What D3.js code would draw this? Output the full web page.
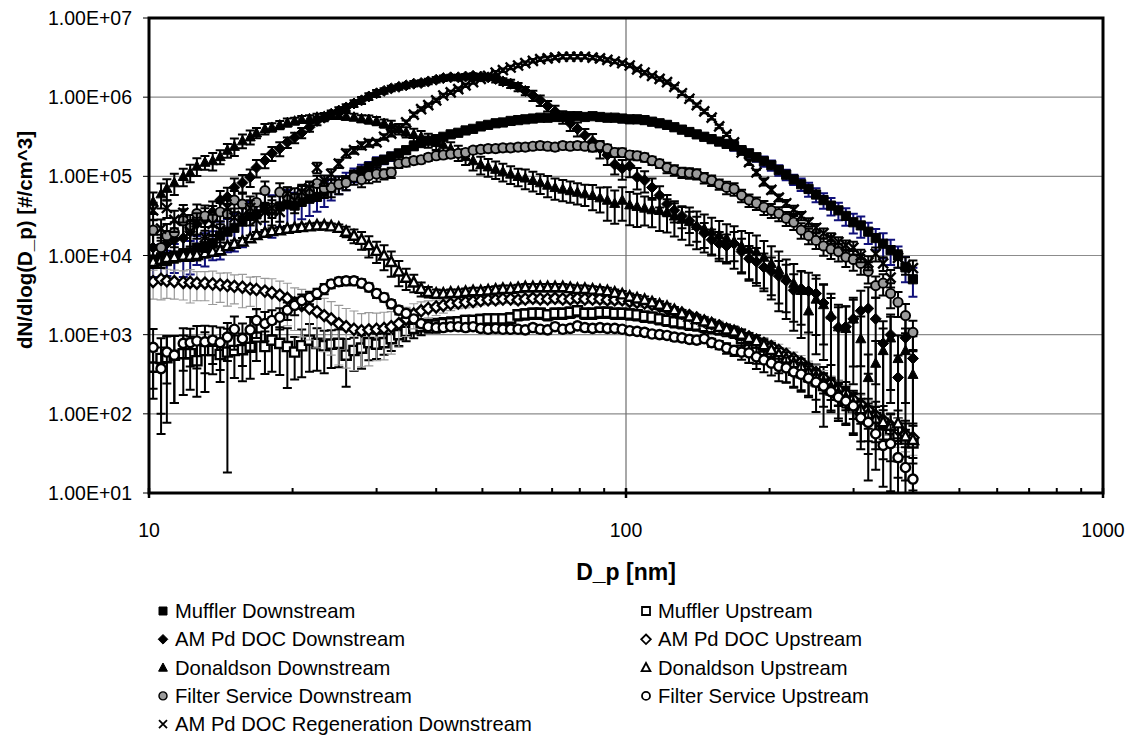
<!doctype html>
<html>
<head>
<meta charset="utf-8">
<title>Particle size distributions</title>
<script src="https://cdn.jsdelivr.net/npm/d3@7"></script>
<style>
  body { margin: 0; background: #fff; }
  text { font-family: Arial, "Liberation Sans", sans-serif; fill: #000; }
</style>
</head>
<body>
<svg id="chart" width="1129" height="736"></svg>
<script>
// SMPS channel mid-points (nm)
const diameters = [10.2,10.6,10.9,11.3,11.8,12.2,12.6,13.1,13.6,14.1,
  14.6,15.1,15.7,16.3,16.8,17.5,18.1,18.8,19.5,20.2,
  20.9,21.7,22.5,23.3,24.1,25.0,25.9,26.9,27.9,28.9,
  30.0,31.1,32.2,33.4,34.6,35.9,37.2,38.5,40.0,41.4,
  42.9,44.5,46.1,47.8,49.6,51.4,53.3,55.2,57.3,59.4,
  61.5,63.8,66.1,68.5,71.0,73.7,76.4,79.1,82.0,85.1,
  88.2,91.4,94.7,98.2,101.8,105.5,109.4,113.4,117.6,121.9,
  126.3,131.0,135.8,140.7,145.9,151.2,156.8,162.5,168.5,174.7,
  181.1,187.7,194.6,201.7,209.1,216.7,224.7,232.9,241.4,250.3,
  259.5,269.0,278.8,289.0,299.6,310.6,322.0,333.8,346.0,358.7,
  371.8,385.4,399.5];

// dN/dlog(Dp) values (#/cm^3) and error bars (% of value)
const mufflerDown = [8.9e3,9.5e3,8.5e3,1.0e4,1.07e4,1.05e4,1.26e4,1.32e4,1.45e4,1.78e4,
  2.0e4,2.24e4,2.82e4,3.16e4,3.31e4,3.98e4,3.72e4,4.17e4,4.47e4,4.27e4,
  4.79e4,5.25e4,5.5e4,6.31e4,7.08e4,7.94e4,8.91e4,1.05e5,1.17e5,1.32e5,
  1.51e5,1.62e5,1.78e5,1.95e5,2.14e5,2.4e5,2.63e5,2.82e5,2.95e5,3.16e5,
  3.39e5,3.55e5,3.8e5,3.98e5,4.27e5,4.47e5,4.68e5,4.79e5,5.01e5,5.13e5,
  5.25e5,5.37e5,5.5e5,5.5e5,5.62e5,5.62e5,5.75e5,5.75e5,5.62e5,5.75e5,
  5.62e5,5.5e5,5.5e5,5.37e5,5.25e5,5.25e5,5.13e5,4.9e5,4.68e5,4.47e5,
  4.17e5,3.89e5,3.63e5,3.39e5,3.16e5,2.95e5,2.75e5,2.57e5,2.4e5,2.14e5,
  1.95e5,1.74e5,1.55e5,1.38e5,1.2e5,1.05e5,9.12e4,7.94e4,6.92e4,5.89e4,
  5.01e4,4.27e4,3.72e4,3.16e4,2.63e4,2.4e4,2.0e4,1.66e4,1.41e4,1.17e4,
  1.0e4,7.08e3,5.01e3];
const mufflerDownErr = [40,45,35,40,50,45,40,45,40,50,
  45,50,55,50,45,50,55,45,50,45,
  40,40,35,35,30,25,25,20,20,15,
  15,12,12,10,10,10,10,8,8,8,
  8,8,8,8,8,8,8,8,8,8,
  8,8,8,8,8,8,8,8,8,8,
  8,8,8,10,10,10,10,10,10,10,
  10,10,10,10,10,10,10,10,12,12,
  12,12,15,15,15,15,15,18,20,20,
  22,25,25,25,28,30,30,30,35,35,
  30,35,40];

const mufflerUp = [389,501,513,550,575,575,468,631,631,562,
  603,631,646,692,933,708,851,776,708,603,
  724,851,776,724,759,776,550,631,676,794,
  759,794,891,1000,1100,1200,1260,1320,1320,1380,
  1410,1450,1510,1510,1550,1580,1580,1580,1620,1780,
  1820,1860,1860,1780,1860,1860,1910,2000,1860,1860,
  1910,1910,1860,1860,1820,1780,1700,1660,1580,1510,
  1450,1410,1350,1320,1260,1230,1170,1120,1070,891,
  676,661,631,603,501,417,355,331,295,263,
  229,200,174,151,120,112,100,89,76,63,
  52,48,43];
const mufflerUpErr = [60,80,85,75,70,65,65,70,50,55,
  97,55,60,60,50,55,60,60,70,55,
  60,60,55,55,50,50,60,45,45,40,
  35,30,30,28,25,25,22,20,20,18,
  18,15,15,15,15,15,15,15,15,15,
  15,15,15,15,15,15,15,15,15,15,
  15,15,15,15,15,15,15,15,15,15,
  15,15,15,15,15,15,15,15,15,30,
  35,35,30,30,35,40,40,40,45,60,
  70,45,50,50,55,60,55,60,65,60,
  70,70,75];

const amDocDown = [1.26e4,1.2e4,1.41e4,1.58e4,1.66e4,2.0e4,2.51e4,2.82e4,3.55e4,5.01e4,
  5.5e4,7.24e4,8.32e4,9.77e4,1.29e5,1.58e5,1.95e5,2.24e5,2.69e5,3.09e5,
  3.55e5,4.17e5,5.01e5,5.5e5,6.17e5,6.76e5,7.41e5,8.32e5,9.12e5,1.02e6,
  1.12e6,1.2e6,1.29e6,1.35e6,1.41e6,1.48e6,1.51e6,1.58e6,1.66e6,1.74e6,
  1.78e6,1.78e6,1.82e6,1.86e6,1.82e6,1.78e6,1.7e6,1.58e6,1.48e6,1.35e6,
  1.2e6,1.05e6,9.12e5,7.76e5,6.61e5,5.62e5,4.68e5,3.98e5,3.31e5,2.75e5,
  2.24e5,1.86e5,1.41e5,1.26e5,1.35e5,9.77e4,8.91e4,7.24e4,5.75e4,4.47e4,
  3.72e4,3.16e4,2.75e4,2.29e4,1.91e4,1.58e4,1.41e4,1.32e4,1.41e4,1.12e4,
  9.12e3,8.32e3,7.08e3,6.31e3,5.5e3,4.79e3,3.63e3,3.8e3,3.55e3,3.31e3,
  2.51e3,1.66e3,1.23e3,1.26e3,1.58e3,2.0e3,2.14e3,1.58e3,776,1000,
  288,912,501];
const amDocDownErr = [45,40,45,40,45,40,35,40,35,30,
  30,30,25,25,25,20,20,20,15,15,
  15,12,12,10,10,10,10,10,10,10,
  10,8,8,8,8,8,8,8,8,8,
  8,8,8,8,8,8,10,10,12,12,
  12,15,15,15,18,18,20,20,20,25,
  25,25,25,28,28,30,30,30,30,30,
  30,30,30,35,35,35,40,40,40,45,
  45,50,50,50,55,60,60,65,70,70,
  70,75,80,80,75,80,85,85,90,80,
  90,85,90];

const amDocUp = [4680,5010,4790,4680,4570,4570,4470,4470,4370,4270,
  4170,4070,3980,3800,3720,3550,3390,3160,2880,2510,
  2340,2140,1950,1740,1580,1380,1260,1170,1120,1150,
  1170,1200,1260,1380,1580,1820,2000,2140,2240,2340,
  2450,2510,2570,2630,2690,2750,2750,2820,2820,2750,
  2820,2880,2820,2820,2880,2820,2820,2880,2820,2820,
  2820,2750,2750,2750,2630,2570,2510,2400,2290,2140,
  2000,1860,1740,1620,1480,1380,1290,1170,1100,1000,
  933,851,776,708,631,562,501,447,380,331,
  282,240,204,178,151,132,112,95,83,71,
  63,55,50];
const amDocUpErr = [40,45,40,40,40,45,40,40,45,40,
  45,40,45,40,45,45,50,50,55,55,
  60,60,65,65,65,70,70,70,65,65,
  60,60,55,50,40,35,30,25,22,20,
  18,15,15,15,12,12,12,12,12,12,
  12,12,12,12,12,12,12,12,12,12,
  12,12,12,12,12,12,12,12,12,12,
  12,12,12,12,15,15,15,15,15,15,
  15,18,18,18,20,20,20,22,22,25,
  25,25,28,28,30,30,30,35,35,35,
  40,40,40];

const donaldsonDown = [4.79e4,6.03e4,7.08e4,8.32e4,1.0e5,1.12e5,1.35e5,1.51e5,1.58e5,1.78e5,
  2.14e5,2.4e5,2.82e5,3.16e5,3.55e5,3.98e5,4.17e5,4.47e5,4.79e5,5.01e5,
  5.25e5,5.37e5,5.62e5,5.75e5,5.89e5,5.89e5,5.75e5,5.62e5,5.37e5,5.25e5,
  5.01e5,4.68e5,4.37e5,3.98e5,3.63e5,3.39e5,3.16e5,2.88e5,2.69e5,2.51e5,
  2.24e5,2.0e5,1.78e5,1.58e5,1.41e5,1.32e5,1.23e5,1.15e5,1.07e5,1.0e5,
  9.55e4,8.91e4,8.32e4,7.76e4,7.24e4,6.92e4,6.61e4,6.31e4,6.03e4,5.75e4,
  5.37e4,5.01e4,4.57e4,5.01e4,4.37e4,4.17e4,3.98e4,3.8e4,3.72e4,3.55e4,
  3.16e4,2.88e4,2.69e4,2.4e4,2.19e4,2.0e4,1.82e4,1.66e4,1.51e4,1.32e4,
  1.2e4,1.12e4,9550,7940,6610,5250,4470,3630,2000,2820,
  2400,1780,1260,1200,1580,891,288,437,631,912,
  501,631,316];
const donaldsonDownErr = [30,35,30,30,25,25,25,20,25,20,
  20,25,20,20,15,15,12,12,12,10,
  10,10,10,10,10,10,10,10,10,12,
  12,12,15,15,15,18,18,20,20,20,
  20,22,22,25,25,25,25,25,25,25,
  28,28,28,30,30,30,30,30,30,35,
  35,45,45,45,45,45,40,40,45,45,
  45,45,50,50,50,50,50,50,55,55,
  60,60,60,65,70,70,75,75,85,80,
  80,85,90,90,85,90,95,90,90,85,
  95,90,95];

const donaldsonUp = [8320,8910,9330,9550,10000,10000,10200,10700,11200,11700,
  13200,14100,15100,16600,18200,19500,20400,20900,21900,22400,
  22900,23400,24000,24000,23400,22400,20000,17800,15800,13500,
  11500,10000,8320,6310,5250,4570,3800,3470,3310,3310,
  3390,3390,3470,3550,3550,3630,3720,3800,3800,3890,
  3980,3980,3980,3980,3980,3980,3890,3800,3800,3720,
  3630,3550,3390,3240,3020,2880,2750,2570,2400,2240,
  2040,1860,1700,1580,1480,1380,1260,1170,1100,1000,
  912,832,741,646,562,501,437,398,339,295,
  251,214,182,158,132,115,100,87,79,71,
  76,52,47];
const donaldsonUpErr = [15,15,15,15,15,15,15,12,12,12,
  10,10,10,8,8,8,8,8,8,8,
  8,8,8,8,8,10,15,20,25,30,
  30,35,35,35,30,25,20,15,12,10,
  10,10,10,10,10,10,10,10,10,10,
  10,10,10,10,10,10,10,10,10,10,
  10,10,10,10,10,10,10,10,10,10,
  10,10,10,12,12,12,12,15,15,15,
  15,18,18,20,20,20,22,25,25,25,
  28,30,30,30,35,35,35,40,40,40,
  45,45,50];

const filterServiceDown = [2.09e4,1.26e4,1.78e4,1.95e4,2.75e4,2.24e4,3.39e4,3.16e4,3.02e4,3.55e4,
  3.31e4,5.01e4,4.47e4,3.98e4,4.68e4,6.61e4,3.98e4,6.31e4,5.62e4,5.25e4,
  6.03e4,6.61e4,8.13e4,7.08e4,7.24e4,7.94e4,8.32e4,9.77e4,9.12e4,1.02e5,
  1.07e5,1.07e5,1.12e5,1.45e5,1.51e5,1.58e5,1.62e5,1.74e5,1.82e5,1.86e5,
  1.91e5,1.95e5,2.0e5,2.14e5,2.19e5,2.24e5,2.24e5,2.29e5,2.29e5,2.34e5,
  2.34e5,2.4e5,2.45e5,2.4e5,2.34e5,2.45e5,2.4e5,2.45e5,2.4e5,2.34e5,
  2.45e5,2.24e5,2.0e5,2.0e5,1.86e5,1.82e5,1.74e5,1.58e5,1.45e5,1.29e5,
  1.2e5,1.12e5,1.1e5,1.07e5,9.55e4,8.91e4,7.94e4,7.24e4,6.92e4,5.75e4,
  5.01e4,4.57e4,4.07e4,3.72e4,3.39e4,2.95e4,2.63e4,2.09e4,1.78e4,1.55e4,
  1.32e4,1.2e4,1.12e4,9550,8910,7940,6310,4170,4470,3310,
  2570,1740,1070];
const filterServiceDownErr = [35,45,40,35,40,45,30,35,40,30,
  35,30,35,40,30,30,40,30,30,35,
  30,30,25,25,25,25,20,20,20,20,
  20,15,15,12,12,10,10,10,10,10,
  10,10,10,10,10,10,10,10,10,10,
  10,10,10,10,10,10,10,10,10,10,
  10,12,12,12,12,12,12,12,12,15,
  15,15,15,15,15,15,15,18,18,18,
  18,18,20,20,20,20,20,22,22,22,
  25,25,25,25,28,28,30,30,30,35,
  35,40,40];

const filterServiceUp = [692,372,603,550,776,794,832,813,851,794,
  933,1170,891,1150,1510,1380,1510,1660,2040,2340,
  2690,2950,3310,3800,4370,4680,4790,4790,4470,3980,
  3310,2950,2450,2040,1860,1580,1380,1260,1230,1230,
  1260,1260,1230,1260,1200,1170,1200,1170,1170,1170,
  1150,1230,1170,1150,1260,1170,1200,1290,1230,1200,
  1230,1200,1200,1170,1120,1100,1070,1020,1000,977,
  933,912,871,851,891,794,741,676,631,603,
  589,525,479,437,398,380,339,316,282,251,
  224,191,162,145,126,89,78,56,40,42,
  28,21,15];
const filterServiceUpErr = [70,85,60,75,55,50,55,60,50,55,
  50,45,55,45,40,40,35,30,25,25,
  20,18,15,15,12,12,12,12,12,12,
  12,12,12,12,12,10,10,10,10,10,
  10,10,10,10,10,10,10,10,10,10,
  10,10,10,10,10,10,10,10,10,10,
  10,10,10,10,10,10,10,10,10,10,
  10,10,10,10,10,12,12,15,15,20,
  25,30,30,30,35,35,35,40,40,40,
  45,45,50,50,55,60,60,65,70,75,
  75,80,85];

const regenDown = [3.72e4,2.19e4,3.98e4,2.82e4,3.47e4,2.0e4,2.63e4,1.7e4,2.51e4,2.09e4,
  3.98e4,3.02e4,3.16e4,3.98e4,2.82e4,3.55e4,3.98e4,3.55e4,6.03e4,5.01e4,
  6.31e4,7.08e4,1.29e5,8.91e4,1.07e5,1.45e5,1.95e5,2.14e5,2.45e5,2.63e5,
  2.69e5,3.16e5,3.47e5,3.98e5,4.79e5,6.03e5,7.08e5,7.94e5,9.12e5,1.05e6,
  1.15e6,1.26e6,1.41e6,1.55e6,1.7e6,1.86e6,2.04e6,2.19e6,2.37e6,2.51e6,
  2.69e6,2.88e6,3.02e6,3.09e6,3.16e6,3.24e6,3.24e6,3.24e6,3.24e6,3.16e6,
  3.09e6,2.95e6,2.82e6,2.69e6,2.51e6,2.24e6,2.04e6,1.86e6,1.7e6,1.55e6,
  1.35e6,1.12e6,9.55e5,7.94e5,6.61e5,5.5e5,4.27e5,3.39e5,2.69e5,2.0e5,
  1.51e5,1.12e5,8.51e4,6.76e4,5.37e4,4.57e4,3.8e4,3.16e4,2.63e4,2.24e4,
  1.91e4,1.66e4,1.48e4,1.35e4,1.26e4,1.0e4,8130,1.05e4,7940,5250,
  9330,7590,6920];
const regenDownErr = [25,30,25,30,25,35,30,35,30,30,
  25,30,25,25,30,25,25,25,20,20,
  20,20,15,15,15,12,12,10,10,10,
  8,8,8,6,6,6,5,5,5,5,
  5,5,5,5,5,5,5,5,5,5,
  5,5,5,5,5,5,5,5,5,5,
  5,5,5,5,5,5,5,5,5,5,
  5,5,5,5,5,5,5,5,6,6,
  8,8,10,10,10,10,12,12,12,12,
  15,15,15,15,18,18,20,20,20,25,
  25,25,25];

const yTicks = [1e1, 1e2, 1e3, 1e4, 1e5, 1e6, 1e7];
const yTickLabels = ["1.00E+01","1.00E+02","1.00E+03","1.00E+04","1.00E+05","1.00E+06","1.00E+07"];
const xTicks = [10, 100, 1000];
const xTickLabels = ["10", "100", "1000"];

const series = [
  {name: "Muffler Downstream", values: mufflerDown, err: mufflerDownErr, shape: "square", filled: true, errColor: "#10107a", col: 0, row: 0},
  {name: "Muffler Upstream", values: mufflerUp, err: mufflerUpErr, shape: "square", filled: false, errColor: "#000", col: 1, row: 0},
  {name: "AM Pd DOC Downstream", values: amDocDown, err: amDocDownErr, shape: "diamond", filled: true, errColor: "#000", col: 0, row: 1},
  {name: "AM Pd DOC Upstream", values: amDocUp, err: amDocUpErr, shape: "diamond", filled: false, errColor: "#9a9a9a", col: 1, row: 1},
  {name: "Donaldson Downstream", values: donaldsonDown, err: donaldsonDownErr, shape: "triangle", filled: true, errColor: "#000", col: 0, row: 2},
  {name: "Donaldson Upstream", values: donaldsonUp, err: donaldsonUpErr, shape: "triangle", filled: false, errColor: "#000", col: 1, row: 2},
  {name: "Filter Service Downstream", values: filterServiceDown, err: filterServiceDownErr, shape: "circle", filled: "gray", errColor: "#000", col: 0, row: 3},
  {name: "Filter Service Upstream", values: filterServiceUp, err: filterServiceUpErr, shape: "circle", filled: false, errColor: "#000", col: 1, row: 3},
  {name: "AM Pd DOC Regeneration Downstream", values: regenDown, err: regenDownErr, shape: "cross", filled: true, errColor: "#000", col: 0, row: 4}
];

const svg = d3.select("#chart");
const plotLeft = 149, plotRight = 1103, plotTop = 18, plotBottom = 493;

const x = d3.scaleLog().domain([10, 1000]).range([plotLeft, plotRight]);
const y = d3.scaleLog().domain([10, 1e7]).range([plotBottom, plotTop]);

svg.append("rect").attr("width", 1129).attr("height", 736).attr("fill", "#fff");

// marker shapes, s = half size
function markerPath(shape, s) {
  if (shape === "square") return `M${-s},${-s}h${2 * s}v${2 * s}h${-2 * s}Z`;
  if (shape === "diamond") return `M0,${-s * 1.2}L${s * 1.2},0L0,${s * 1.2}L${-s * 1.2},0Z`;
  if (shape === "triangle") return `M0,${-s * 1.15}L${s * 1.1},${s * 0.9}L${-s * 1.1},${s * 0.9}Z`;
  if (shape === "circle") return d3.symbol().type(d3.symbolCircle).size(Math.PI * s * s)();
  return `M${-s},${-s}L${s},${s}M${-s},${s}L${s},${-s}`;
}

function styleMarker(sel, d, w) {
  if (d.shape === "cross") {
    sel.attr("fill", "none").attr("stroke", "#000").attr("stroke-width", w);
  } else if (d.filled === "gray") {
    sel.attr("fill", "#9b9b9b").attr("stroke", "#000").attr("stroke-width", w * 0.8);
  } else if (d.filled) {
    sel.attr("fill", "#000").attr("stroke", "#000").attr("stroke-width", 1);
  } else {
    sel.attr("fill", "#fff").attr("stroke", "#000").attr("stroke-width", w);
  }
}

// gridlines
svg.append("g").selectAll("line").data(yTicks.slice(1, -1)).enter()
  .append("line")
  .attr("x1", plotLeft).attr("x2", plotRight)
  .attr("y1", d => y(d)).attr("y2", d => y(d))
  .attr("stroke", "#8c8c8c").attr("stroke-width", 1.2);
svg.append("line")
  .attr("x1", x(100)).attr("x2", x(100)).attr("y1", plotTop).attr("y2", plotBottom)
  .attr("stroke", "#6e6e6e").attr("stroke-width", 1.2);

// data
svg.append("clipPath").attr("id", "plotClip")
  .append("rect").attr("x", plotLeft).attr("y", plotTop)
  .attr("width", plotRight - plotLeft).attr("height", plotBottom - plotTop);
const plot = svg.append("g").attr("clip-path", "url(#plotClip)");

series.forEach(s => {
  const pts = s.values.map((v, i) => ({
    d: diameters[i], v: v,
    hi: v * (1 + s.err[i] / 100),
    lo: Math.max(v * (1 - s.err[i] / 100), 3)
  }));
  const gray = s.errColor === "#9a9a9a";
  const g = plot.append("g");
  g.selectAll("path.err").data(pts).enter().append("path")
    .attr("class", "err")
    .attr("d", p => {
      const px = x(p.d), yh = y(p.hi), yl = y(p.lo);
      return `M${px},${yh}V${yl}M${px - 4.5},${yh}h9M${px - 4.5},${yl}h9`;
    })
    .attr("fill", "none")
    .attr("stroke", s.errColor)
    .attr("stroke-width", gray ? 1.2 : 2);
  g.selectAll("path.mk").data(pts).enter().append("path")
    .attr("class", "mk")
    .attr("transform", p => `translate(${x(p.d)},${y(p.v)})`)
    .attr("d", markerPath(s.shape, s.shape === "cross" ? 5 : 4.6))
    .call(sel => styleMarker(sel, s, 2.4));
});

// frame
svg.append("rect")
  .attr("x", plotLeft).attr("y", plotTop)
  .attr("width", plotRight - plotLeft).attr("height", plotBottom - plotTop)
  .attr("fill", "none").attr("stroke", "#000").attr("stroke-width", 3);

// y axis ticks and labels
svg.append("g").selectAll("line").data(yTicks).enter().append("line")
  .attr("x1", plotLeft - 6).attr("x2", plotLeft)
  .attr("y1", d => y(d)).attr("y2", d => y(d))
  .attr("stroke", "#000").attr("stroke-width", 1);
svg.append("g").selectAll("text").data(yTicks).enter().append("text")
  .attr("x", 132).attr("y", d => y(d) + 7)
  .attr("text-anchor", "end").attr("font-size", 19.5)
  .text((d, i) => yTickLabels[i]);

// x axis ticks and labels
const xMinor = x.ticks().filter(t => !xTicks.includes(t));
svg.append("g").selectAll("line").data(xMinor).enter().append("line")
  .attr("x1", d => x(d)).attr("x2", d => x(d))
  .attr("y1", plotBottom - 5).attr("y2", plotBottom)
  .attr("stroke", "#000").attr("stroke-width", 2);
svg.append("g").selectAll("line").data(xTicks).enter().append("line")
  .attr("x1", d => x(d)).attr("x2", d => x(d))
  .attr("y1", plotBottom - 5).attr("y2", plotBottom + 5)
  .attr("stroke", "#000").attr("stroke-width", 2.5);
svg.append("g").selectAll("text").data(xTicks).enter().append("text")
  .attr("x", d => x(d)).attr("y", 537)
  .attr("text-anchor", "middle").attr("font-size", 19.5)
  .text((d, i) => xTickLabels[i]);

// axis titles
svg.append("text")
  .attr("x", 626).attr("y", 580)
  .attr("text-anchor", "middle").attr("font-size", 23).attr("font-weight", "bold")
  .text("D_p [nm]");
svg.append("text")
  .attr("transform", "translate(32,240) rotate(-90)")
  .attr("text-anchor", "middle").attr("font-size", 20.5).attr("font-weight", "bold")
  .text("dN/dlog(D_p) [#/cm^3]");

// legend
const legend = svg.append("g").selectAll("g").data(series).enter().append("g")
  .attr("transform", d => `translate(${d.col === 0 ? 163 : 646},${611 + d.row * 28.3})`);
legend.append("path")
  .attr("d", d => markerPath(d.shape, 4))
  .each(function(d) { styleMarker(d3.select(this), d, 1.8); });
legend.append("text")
  .attr("x", 12).attr("y", 7)
  .attr("font-size", 20.2)
  .text(d => d.name);
</script>
</body>
</html>
